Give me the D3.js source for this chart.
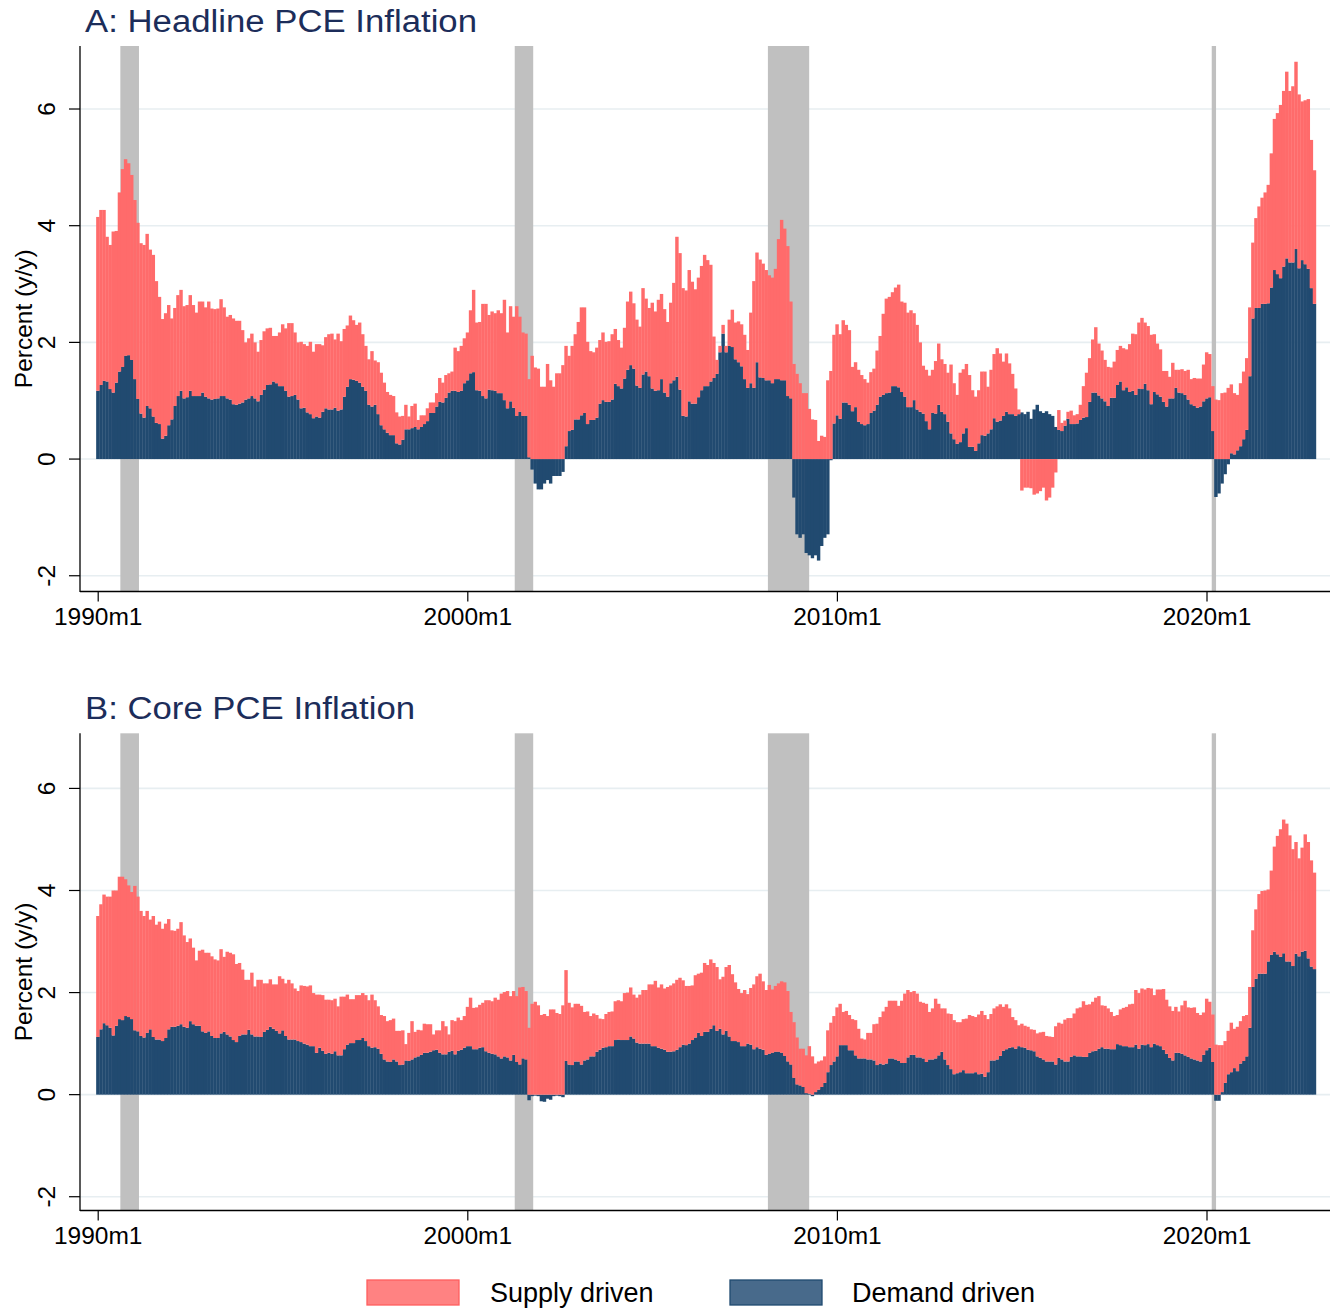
<!DOCTYPE html>
<html><head><meta charset="utf-8">
<script src="https://cdn.jsdelivr.net/npm/d3@7"></script>
<style>
html,body{margin:0;padding:0;background:#fff;}
svg{display:block;font-family:"Liberation Sans",Arial,sans-serif;}
</style></head><body>
<svg id="chart" width="1337" height="1310"></svg>
<script>
// Monthly observations 1990m1 .. 2022m12 (396 months)
const xTickLabels = ["1990m1","2000m1","2010m1","2020m1"];
const xTickMonths = [0,120,240,360];
const yTicks = [-2,0,2,4,6];
const seriesNames = ["Supply driven","Demand driven"];

// Recession shading (months since 1990m1)
const recessionStart = [7.35, 135.4, 217.6, 361.7];
const recessionEnd   = [13.4, 141.4, 231.0, 363.1];

const headlineDemand = [
1.17,1.27,1.34,1.33,1.20,1.14,1.31,1.50,1.58,1.77,1.78,1.70,
1.37,1.03,0.78,0.71,0.91,0.87,0.73,0.62,0.60,0.35,0.40,0.58,
0.68,0.91,1.08,1.17,1.04,1.06,1.17,1.08,1.08,1.08,1.14,1.07,
1.04,1.02,1.03,1.04,1.08,1.08,1.04,1.02,0.94,0.93,0.95,0.97,
1.02,1.04,1.08,1.04,0.99,1.10,1.19,1.27,1.28,1.33,1.30,1.25,
1.25,1.17,1.07,1.08,1.10,1.02,0.87,0.88,0.80,0.77,0.70,0.73,
0.71,0.81,0.87,0.85,0.85,0.88,0.83,0.85,1.07,1.24,1.37,1.36,
1.34,1.31,1.24,1.17,0.93,0.90,0.93,0.77,0.58,0.51,0.45,0.41,
0.41,0.27,0.25,0.33,0.51,0.51,0.53,0.55,0.51,0.55,0.60,0.65,
0.79,0.79,0.90,0.98,0.97,1.05,1.14,1.17,1.17,1.15,1.17,1.30,
1.35,1.47,1.49,1.18,1.17,1.08,1.04,1.19,1.18,1.17,1.13,1.13,
1.01,0.87,0.99,0.88,0.74,0.81,0.74,0.74,0.03,-0.18,-0.42,-0.52,
-0.52,-0.42,-0.36,-0.42,-0.29,-0.29,-0.29,-0.22,0.22,0.48,0.50,0.68,
0.68,0.75,0.79,0.60,0.67,0.67,0.71,0.95,1.01,0.98,0.98,1.02,
1.29,1.25,1.21,1.38,1.53,1.61,1.55,1.26,1.22,1.45,1.50,1.42,
1.21,1.17,1.18,1.37,1.14,1.07,1.30,1.35,1.41,1.19,0.74,0.73,
0.99,0.95,0.95,1.06,1.18,1.25,1.25,1.33,1.39,1.46,1.83,2.15,
1.83,1.94,1.92,1.71,1.66,1.59,1.37,1.22,1.30,1.22,1.66,1.40,
1.39,1.35,1.35,1.30,1.37,1.37,1.35,1.35,1.08,1.04,-0.66,-1.29,
-1.35,-1.29,-1.61,-1.65,-1.70,-1.65,-1.74,-1.49,-1.35,-1.29,-0.02,0.61,
0.75,0.69,0.97,0.97,0.93,0.82,0.89,0.64,0.60,0.58,0.60,0.79,
0.83,0.93,1.07,1.10,1.13,1.14,1.25,1.25,1.23,1.15,1.07,0.89,
0.89,1.01,0.85,0.81,0.78,0.65,0.51,0.79,0.78,0.93,0.81,0.77,
0.64,0.44,0.34,0.26,0.29,0.44,0.53,0.21,0.21,0.14,0.27,0.41,
0.40,0.44,0.51,0.70,0.64,0.66,0.74,0.81,0.77,0.77,0.74,0.77,
0.80,0.77,0.81,0.69,0.85,0.93,0.82,0.79,0.82,0.77,0.74,0.55,
0.50,0.48,0.57,0.69,0.60,0.60,0.61,0.67,0.71,0.72,0.98,1.14,
1.14,1.09,1.04,0.99,0.91,1.05,1.05,1.27,1.33,1.18,1.23,1.15,
1.17,1.10,1.21,1.20,1.29,1.18,0.94,1.15,1.11,1.07,0.98,0.90,
1.04,1.04,1.22,1.14,1.13,1.10,1.02,0.94,0.91,0.88,0.90,0.99,
1.04,1.06,0.48,-0.65,-0.59,-0.42,-0.26,-0.09,0.10,0.08,0.15,0.22,
0.34,0.50,1.42,2.41,2.59,2.59,2.66,2.66,2.67,2.94,3.24,3.17,
3.10,3.30,3.44,3.37,3.37,3.60,3.27,3.41,3.34,3.26,2.93,2.66];

const headlineSupply = [
2.98,3.00,2.93,2.48,2.47,2.76,2.60,3.07,3.39,3.37,3.29,3.17,
3.07,3.02,2.92,2.96,2.95,2.72,2.77,2.43,2.18,2.05,2.10,2.06,
1.73,1.68,1.73,1.73,1.58,1.58,1.64,1.56,1.43,1.62,1.56,1.53,
1.66,1.56,1.54,1.54,1.66,1.52,1.40,1.45,1.47,1.44,1.42,1.24,
0.98,1.03,1.07,0.96,0.85,0.94,1.00,0.97,0.97,0.78,0.81,0.92,
1.06,1.07,1.26,1.25,1.07,0.98,1.14,1.09,1.14,1.24,1.14,1.24,
1.26,1.14,1.22,1.29,1.30,1.17,1.32,1.17,1.16,1.05,1.09,1.02,
0.96,1.03,0.90,0.77,0.78,0.95,0.76,0.89,0.90,0.80,0.70,0.69,
0.67,0.53,0.48,0.41,0.42,0.22,0.38,0.40,0.16,0.20,0.15,0.22,
0.18,0.18,0.23,0.41,0.34,0.39,0.33,0.33,0.74,0.70,0.77,0.77,
0.82,1.08,1.41,1.16,1.18,1.58,1.62,1.28,1.35,1.33,1.42,1.37,
1.72,1.30,1.63,1.56,1.88,1.63,1.43,1.41,1.34,1.77,1.57,1.55,
1.24,1.24,1.63,1.35,1.24,1.47,1.47,1.61,1.72,1.29,1.44,1.46,
1.67,1.85,1.81,1.41,1.18,1.16,1.20,1.09,1.16,1.03,1.04,1.12,
0.94,0.79,0.70,0.87,1.17,1.26,1.12,1.13,1.05,1.48,1.25,1.17,
1.47,1.36,1.55,1.46,1.43,1.28,1.38,1.67,2.40,2.34,2.19,2.16,
2.25,2.09,1.96,2.05,2.13,2.25,2.16,2.00,0.71,0.24,0.11,0.15,
0.11,0.45,0.64,0.63,0.70,0.72,0.76,0.65,1.21,1.83,1.88,2.02,
1.96,1.89,1.80,1.81,1.89,2.40,2.75,2.60,2.57,1.66,1.63,1.46,
1.30,1.13,1.13,0.86,0.68,0.67,0.31,0.40,0.38,1.35,1.51,1.52,
1.56,1.45,1.41,1.33,1.28,0.76,0.77,0.89,0.84,0.79,0.71,0.70,
0.72,0.93,1.04,1.39,1.62,1.64,1.61,1.69,1.76,1.55,1.61,1.62,
1.66,1.49,1.45,1.19,0.82,0.88,0.92,0.74,0.90,1.05,0.90,0.86,
0.84,1.18,0.96,0.84,1.19,1.10,1.10,1.23,0.97,0.93,0.91,1.09,
1.10,0.80,1.02,1.10,1.26,1.15,0.93,1.00,0.87,0.69,0.47,0.08,
-0.54,-0.49,-0.49,-0.50,-0.61,-0.59,-0.55,-0.49,-0.71,-0.66,-0.49,-0.23,
0.34,0.14,0.09,0.12,0.23,0.15,0.16,0.26,0.54,0.76,0.75,0.91,
1.12,0.89,0.82,0.71,0.67,0.52,0.62,0.60,0.61,0.72,0.65,0.82,
0.98,1.04,1.13,1.22,1.05,1.10,1.19,0.99,0.87,0.81,0.53,0.61,
0.37,0.61,0.31,0.39,0.41,0.41,0.51,0.43,0.48,0.50,0.48,0.63,
0.79,0.74,0.77,1.02,1.01,1.13,1.14,1.22,1.18,1.05,0.95,1.08,
1.16,1.23,1.18,1.30,1.54,1.74,1.82,1.91,2.03,2.30,2.59,2.76,
2.97,3.01,3.20,2.94,3.02,3.21,2.98,2.72,2.81,2.91,2.54,2.29];

const coreDemand = [
1.13,1.28,1.40,1.36,1.31,1.16,1.35,1.48,1.46,1.54,1.52,1.48,
1.26,1.24,1.15,1.12,1.21,1.28,1.13,1.08,1.08,1.05,1.11,1.28,
1.33,1.33,1.35,1.38,1.33,1.31,1.44,1.38,1.35,1.35,1.24,1.21,
1.24,1.15,1.11,1.11,1.20,1.23,1.18,1.14,1.07,1.03,1.15,1.18,
1.18,1.27,1.18,1.14,1.14,1.13,1.23,1.27,1.33,1.29,1.25,1.20,
1.26,1.15,1.08,1.08,1.08,1.05,1.03,1.00,0.98,0.95,0.95,0.82,
0.92,0.86,0.80,0.82,0.80,0.85,0.77,0.77,0.89,0.98,1.01,1.01,
1.07,1.07,1.11,1.05,0.95,0.92,0.93,0.90,0.80,0.69,0.65,0.64,
0.69,0.65,0.58,0.59,0.67,0.66,0.69,0.73,0.75,0.78,0.82,0.82,
0.84,0.87,0.88,0.82,0.79,0.79,0.84,0.86,0.79,0.86,0.88,0.92,
0.95,0.95,0.89,0.89,0.92,0.93,0.85,0.82,0.80,0.79,0.75,0.71,
0.75,0.73,0.67,0.78,0.64,0.59,0.71,0.69,-0.11,-0.03,-0.02,-0.03,
-0.13,-0.14,-0.08,-0.10,-0.03,-0.02,-0.03,-0.05,0.66,0.59,0.58,0.65,
0.65,0.59,0.67,0.69,0.75,0.75,0.84,0.88,0.92,0.93,0.95,0.95,
1.07,1.08,1.07,1.07,1.07,1.14,1.10,1.02,1.00,1.00,1.00,1.00,
0.95,0.95,0.92,0.90,0.88,0.84,0.84,0.85,0.88,0.93,0.98,0.97,
1.00,1.07,1.12,1.21,1.15,1.23,1.23,1.29,1.36,1.25,1.29,1.18,
1.25,1.14,1.05,1.05,1.03,0.95,0.95,1.00,0.98,0.89,0.93,0.90,
0.88,0.78,0.80,0.82,0.84,0.84,0.82,0.76,0.65,0.59,0.33,0.20,
0.18,0.15,0.03,0.02,-0.03,0.05,0.10,0.15,0.23,0.44,0.58,0.65,
0.75,0.97,0.97,0.97,0.87,0.87,0.77,0.71,0.71,0.71,0.69,0.69,
0.67,0.58,0.61,0.59,0.61,0.71,0.71,0.69,0.66,0.62,0.62,0.73,
0.78,0.78,0.73,0.73,0.71,0.64,0.69,0.69,0.71,0.77,0.84,0.69,
0.58,0.50,0.40,0.42,0.44,0.48,0.42,0.42,0.42,0.44,0.40,0.41,
0.35,0.44,0.67,0.67,0.69,0.76,0.86,0.89,0.92,0.93,0.90,0.95,
0.93,0.92,0.88,0.87,0.85,0.75,0.72,0.69,0.65,0.65,0.65,0.59,
0.72,0.69,0.65,0.65,0.74,0.77,0.75,0.75,0.74,0.74,0.82,0.85,
0.86,0.90,0.93,0.90,0.90,0.89,0.89,0.99,0.97,0.95,0.95,0.93,
0.93,0.98,0.90,0.98,0.97,0.99,0.93,1.00,0.97,0.95,0.88,0.80,
0.72,0.67,0.82,0.82,0.80,0.77,0.74,0.71,0.69,0.67,0.65,0.78,
0.87,0.92,0.64,-0.12,-0.12,0.05,0.23,0.40,0.44,0.52,0.46,0.61,
0.66,0.75,1.31,2.11,2.27,2.37,2.37,2.37,2.61,2.74,2.80,2.75,
2.70,2.77,2.61,2.61,2.52,2.76,2.71,2.80,2.82,2.67,2.51,2.46];

const coreSupply = [
2.37,2.45,2.52,2.52,2.57,2.84,2.65,2.79,2.81,2.68,2.58,2.49,
2.83,2.64,2.45,2.38,2.39,2.15,2.37,2.25,2.31,2.20,2.24,2.16,
1.89,1.88,1.90,2.00,1.79,1.68,1.62,1.50,1.28,1.47,1.60,1.57,
1.54,1.56,1.54,1.52,1.65,1.47,1.62,1.64,1.68,1.53,1.43,1.27,
1.07,0.98,1.21,0.98,1.11,1.12,0.95,0.91,0.93,0.87,0.91,1.12,
1.01,1.03,1.17,1.10,1.00,0.98,1.11,1.13,1.14,1.19,1.04,1.14,
1.04,1.09,1.06,1.04,1.05,1.03,0.96,1.15,1.03,0.98,0.86,0.86,
0.88,0.88,0.88,0.90,0.90,1.04,0.92,0.83,0.76,0.85,0.79,0.82,
0.80,0.60,0.67,0.67,0.32,0.55,0.75,0.50,0.52,0.48,0.57,0.56,
0.54,0.31,0.38,0.44,0.65,0.55,0.34,0.60,0.65,0.65,0.58,0.62,
0.77,0.95,0.81,0.82,0.84,0.87,1.00,1.03,1.03,1.11,1.11,1.27,
1.26,1.30,1.26,1.25,1.29,1.51,1.40,1.34,1.31,1.78,1.82,1.75,
1.56,1.58,1.54,1.67,1.67,1.60,1.58,1.75,1.78,1.21,1.13,1.13,
1.13,1.15,0.95,0.94,0.79,0.84,0.72,0.61,0.56,0.65,0.67,0.68,
0.76,0.77,0.76,0.92,0.93,0.96,0.86,0.88,0.96,1.05,1.05,1.16,
1.21,1.28,1.18,1.26,1.20,1.27,1.30,1.33,1.37,1.36,1.26,1.16,
1.13,1.07,1.22,1.16,1.24,1.35,1.31,1.36,1.22,1.25,0.97,1.13,
1.25,1.40,1.31,1.15,1.04,1.04,1.10,0.97,1.11,1.27,1.39,1.47,
1.34,1.27,1.35,1.24,1.29,1.34,1.40,1.44,1.38,1.03,1.09,0.92,
0.72,0.75,0.74,0.93,0.75,0.56,0.55,0.52,0.52,0.82,0.83,0.89,
0.96,0.81,0.65,0.67,0.69,0.61,0.69,0.58,0.39,0.37,0.52,0.52,
0.71,0.81,0.91,1.04,1.11,1.13,1.13,1.15,1.08,1.22,1.36,1.32,
1.23,1.25,1.25,1.09,1.09,1.14,0.93,1.00,1.17,1.01,0.85,1.00,
1.01,1.08,1.06,1.00,0.98,1.00,1.07,1.14,1.12,1.08,1.17,1.23,
1.21,1.04,0.91,1.02,1.04,1.01,0.86,0.88,0.77,0.59,0.56,0.41,
0.46,0.43,0.45,0.41,0.42,0.45,0.50,0.54,0.50,0.49,0.48,0.75,
0.69,0.70,0.82,0.85,0.76,0.82,0.94,0.96,1.09,1.02,0.95,0.97,
1.04,1.03,0.82,0.84,0.79,0.73,0.65,0.57,0.70,0.75,0.77,0.84,
0.85,1.07,1.09,1.10,1.09,1.10,1.15,0.95,1.09,1.11,1.19,1.06,
1.01,0.97,0.90,0.81,0.95,1.07,0.97,0.99,1.02,0.93,0.91,0.83,
1.01,0.90,0.93,0.98,0.97,0.92,0.82,0.85,0.97,0.77,0.87,0.83,
0.88,0.81,0.80,1.11,1.36,1.56,1.62,1.63,1.41,1.65,2.06,2.32,
2.50,2.62,2.70,2.47,2.29,2.19,1.92,2.04,2.28,2.28,2.08,1.89];

// ---------------- drawing ----------------
const svg = d3.select("#chart");
const COL_SUPPLY = "#ff6b6b", COL_DEMAND = "#214a70";
const AX_LEFT = 80, AX_RIGHT = 1330;
const x = d3.scaleLinear().domain([0, 360]).range([97.7, 97.7 + 3.08 * 360]);
const bw = x(1) - x(0);

const panels = [
  {title: "A: Headline PCE Inflation", titleLen: 392, demand: headlineDemand, supply: headlineSupply, top: 46, bottom: 591.5},
  {title: "B: Core PCE Inflation", titleLen: 330, demand: coreDemand, supply: coreSupply, top: 733.3, bottom: 1210.5}
];

panels.forEach(p => {
  const y = d3.scaleLinear().domain([-2.27, 7.08]).range([p.bottom, p.top]);
  const g = svg.append("g");

  // gridlines
  g.selectAll("line.grid").data(yTicks).join("line")
    .attr("x1", AX_LEFT).attr("x2", AX_RIGHT)
    .attr("y1", d => y(d)).attr("y2", d => y(d))
    .attr("stroke", "#e7eef1").attr("stroke-width", 1.6);

  // recessions
  g.selectAll("rect.rec").data(recessionStart.map((s, i) => [s, recessionEnd[i]])).join("rect")
    .attr("x", d => x(d[0])).attr("width", d => x(d[1]) - x(d[0]))
    .attr("y", p.top).attr("height", p.bottom - p.top)
    .attr("fill", "#c0c0c0");

  // stacked bars (diverging)
  const rows = p.demand.map((d, i) => ({m: i, demand: d, supply: p.supply[i]}));
  const stack = d3.stack().keys(["demand", "supply"]).offset(d3.stackOffsetDiverging);
  const layers = stack(rows);
  const colors = {demand: COL_DEMAND, supply: COL_SUPPLY};
  layers.forEach(layer => {
    g.append("g").selectAll("rect").data(layer).join("rect")
      .attr("x", d => x(d.data.m) - bw / 2)
      .attr("width", bw + 0.35)
      .attr("y", d => y(Math.max(d[0], d[1])))
      .attr("height", d => Math.abs(y(d[0]) - y(d[1])))
      .attr("fill", colors[layer.key]);
  });

  // axes lines
  g.append("line").attr("x1", AX_LEFT).attr("x2", AX_LEFT).attr("y1", p.top).attr("y2", p.bottom + 0.5)
    .attr("stroke", "#000").attr("stroke-width", 1.3);
  g.append("line").attr("x1", AX_LEFT).attr("x2", AX_RIGHT).attr("y1", p.bottom).attr("y2", p.bottom)
    .attr("stroke", "#000").attr("stroke-width", 1.3);

  // y ticks
  g.selectAll("line.yt").data(yTicks).join("line")
    .attr("x1", AX_LEFT - 11).attr("x2", AX_LEFT)
    .attr("y1", d => y(d)).attr("y2", d => y(d))
    .attr("stroke", "#000").attr("stroke-width", 1.2);
  g.selectAll("text.yl").data(yTicks).join("text")
    .attr("transform", d => `translate(55,${y(d)}) rotate(-90)`)
    .attr("text-anchor", "middle").attr("font-size", 24.5).attr("fill", "#000")
    .text(d => d);

  // x axis ticks via d3 axis
  const xAxis = d3.axisBottom(x).tickValues(xTickMonths).tickSize(10).tickPadding(6)
    .tickFormat((d, i) => xTickLabels[i]);
  const ax = g.append("g").attr("transform", `translate(0,${p.bottom})`).call(xAxis);
  ax.select(".domain").remove();
  ax.selectAll(".tick line").attr("stroke", "#000").attr("stroke-width", 1.2);
  ax.selectAll(".tick text").attr("font-size", 24.5).attr("fill", "#000")
    .attr("font-family", "\"Liberation Sans\",Arial,sans-serif").attr("dy", "0.71em");

  // y title
  g.append("text").attr("transform", `translate(32,${(p.top + p.bottom) / 2}) rotate(-90)`)
    .attr("text-anchor", "middle").attr("font-size", 24.5).attr("fill", "#000")
    .text("Percent (y/y)");

  // panel title
  g.append("text").attr("x", 85).attr("y", p.top - 14.3)
    .attr("font-size", 31).attr("fill", "#1c2d5a")
    .attr("textLength", p.titleLen).attr("lengthAdjust", "spacingAndGlyphs")
    .text(p.title);
});

// legend
const legend = svg.append("g");
const legItems = [
  {name: seriesNames[0], fill: "#ff8282", stroke: "#ff5e5e", bx: 367, tx: 490},
  {name: seriesNames[1], fill: "#486a8b", stroke: "#1f4a70", bx: 730, tx: 852}
];
legItems.forEach(it => {
  legend.append("rect").attr("x", it.bx).attr("y", 1280).attr("width", 92).attr("height", 25)
    .attr("fill", it.fill).attr("stroke", it.stroke).attr("stroke-width", 1.3);
  legend.append("text").attr("x", it.tx).attr("y", 1302).attr("font-size", 27).attr("fill", "#000")
    .text(it.name);
});
</script>
</body></html>
